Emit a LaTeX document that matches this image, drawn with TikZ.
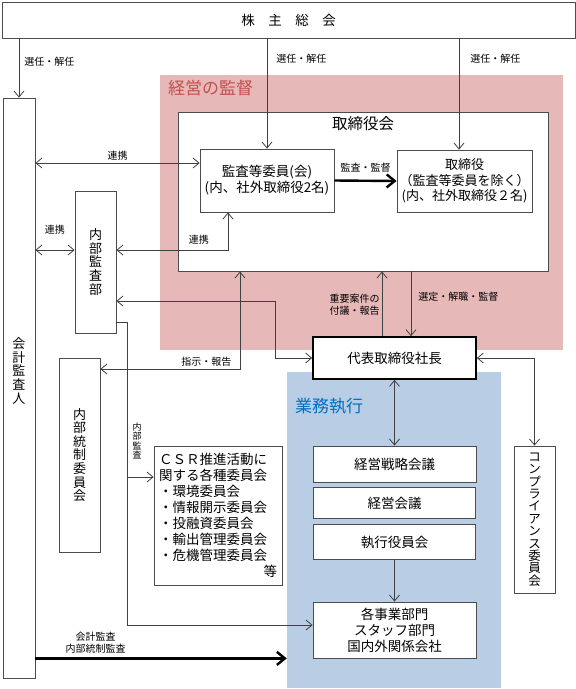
\documentclass[tikz,border=0pt]{standalone}
\usepackage{fontspec}
\setmainfont{Noto Sans CJK JP}
\usetikzlibrary{arrows.meta,calc,positioning}
\definecolor{keieibg}{RGB}{230,185,184}
\definecolor{gyomubg}{RGB}{185,205,229}
\definecolor{keieitxt}{RGB}{192,80,77}
\definecolor{gyomutxt}{RGB}{0,112,192}
\definecolor{linegray}{RGB}{64,64,64}
\tikzset{every picture/.style={
  >={Straight Barb[length=6pt,width=10pt]}   % Open V-shaped arrow heads.
  }
}

\begin{document}
\begin{tikzpicture}[x=1pt,y=-1pt,
    box/.style={                % Boxes denoting the organs.
      rectangle,
      draw=black!70,
      line width=0.8pt,
      fill=white,
      align=center,
      inner sep=0pt,
      font=\fontsize{13.5}{16}\selectfont
    },
    vbox/.style={               % Tall boxes with stacked text.
      box,
      font=\fontsize{13}{13.6}\selectfont
    },
    region/.style={             % Shaded areas behind the boxes.
      rectangle,
      inner sep=0pt
    },
    area/.style={               % Titles of the shaded areas.
      anchor=west,
      inner sep=0pt,
      font=\fontsize{17}{20}\selectfont
    },
    lbl/.style={                % Small texts along the connectors.
      inner sep=2pt,
      align=center,
      font=\fontsize{10}{12}\selectfont
    },
    conn/.style={               % Plain connectors.
      draw=linegray,
      line width=0.8pt
    },
    heavy/.style={              % Bold arrows.
      draw=black,
      line width=2.4pt,
      -{Straight Barb[length=8pt,width=13pt]}
    }]
    \useasboundingbox (0,0) rectangle (576,689);

    % Shaded areas for supervision and execution.
    \node[region,fill=keieibg,minimum width=403,minimum height=275] (kantoku) at (361.5,212.5) {};
    \node[region,fill=gyomubg,minimum width=214,minimum height=316] (gyomu) at (394,530) {};
    \node[area,text=keieitxt] (lkantoku) at (168,88) {経営の監督};
    \node[area,text=gyomutxt] (lgyomu) at (295,406) {業務執行};

    % The boxes.
    \node[box,minimum width=573,minimum height=36] (kabu) at (288.5,20) {株　主　総　会};
    \node[box,minimum width=370,minimum height=159] (torikai) at (363,191.5) {};
    \node[inner sep=0pt,font=\fontsize{15.5}{18}\selectfont] (ltorikai) at (363,124) {取締役会};
    \node[box,minimum width=134,minimum height=63] (iin) at (267,180.5)
      {監査等委員(会)\\(内、社外取締役2名)};
    \node[box,minimum width=135,minimum height=62,font=\fontsize{13}{15.5}\selectfont] (tori) at (464.5,181)
      {取締役\\（監査等委員を除く）\\(内、社外取締役２名)};
    \node[box,draw=black,line width=1.6pt,minimum width=163,minimum height=42] (shacho) at (394.5,358)
      {代表取締役社長};
    \node[box,minimum width=163,minimum height=36] (senryaku) at (394.5,464) {経営戦略会議};
    \node[box,minimum width=162,minimum height=31,below=5pt of senryaku] (keiei) {経営会議};
    \node[box,minimum width=162,minimum height=35,below=5pt of keiei] (shikko) {執行役員会};
    \node[box,minimum width=163,minimum height=56] (jigyo) at (394.5,630)
      {各事業部門\\スタッフ部門\\国内外関係会社};
    \node[box,minimum width=128,minimum height=139,text width=118,align=left] (csr) at (218,515.5)
      {ＣＳＲ推進活動に\\関する各種委員会\\・環境委員会\\・情報開示委員会\\・投融資委員会\\・輸出管理委員会\\・危機管理委員会\\\mbox{}\hfill 等};

    % Tall boxes with stacked text.
    \node[vbox,minimum width=32,minimum height=580] (kaikei) at (19,388) {};
    \node[inner sep=0pt,align=center,font=\fontsize{13}{13.6}\selectfont] (lkaikei) at (19,371)
      {会\\計\\監\\査\\人};
    \node[vbox,minimum width=41,minimum height=142] (naibu) at (95.5,262) {内\\部\\監\\査\\部};
    \node[vbox,minimum width=41,minimum height=194] (tousei) at (79.5,455)
      {内\\部\\統\\制\\委\\員\\会};
    \node[vbox,minimum width=41,minimum height=147,font=\fontsize{12.5}{12.4}\selectfont] (comp) at (534.5,519.5)
      {コ\\ン\\プ\\ラ\\イ\\ア\\ン\\ス\\委\\員\\会};

    % Appointment by the shareholders' meeting.
    \draw[conn,->] (kabu.south -| kaikei) -- node[lbl,right=3pt,pos=0.4] (lsen1) {選任・解任} (kaikei.north);
    \draw[conn,->] (iin.north |- kabu.south) -- node[lbl,right=7pt,pos=0.18] (lsen2) {選任・解任} (iin.north);
    \coordinate (toriin) at ([xshift=-5.5pt]tori.north);
    \draw[conn,->] (toriin |- kabu.south) -- node[lbl,right=9pt,pos=0.18] (lsen3) {選任・解任} (toriin);

    % Cooperation lines.
    \coordinate (iinw) at ([yshift=17.5pt]iin.west);
    \draw[conn,<->] (iinw -| kaikei.east) -- node[lbl,above] (lren1) {連携} (iinw);
    \coordinate (naibuw) at ([yshift=12pt]naibu.west);
    \draw[conn,<->] (naibuw -| kaikei.east) -- node[lbl,above=13pt] (lren2) {連携} (naibuw);
    \coordinate (iins) at ([xshift=-39pt]iin.south);
    \draw[conn,<->] ([yshift=12pt]naibu.east) -| node[lbl,above=3pt,pos=0.37] (lren3) {連携} (iins);

    % Instructions and reports.
    \draw[conn,<->] ([xshift=-123pt]torikai.south) |- node[lbl,above,pos=0.62] (lshiji) {指示・報告}
      ([yshift=86pt]tousei.east);
    \draw[conn,<->] ([yshift=-39pt]naibu.east) -- ++(159,0) |- (shacho.west);

    % Internal audit.
    \coordinate (naibuse) at ([yshift=-60pt]naibu.east);
    \draw[conn,->] (naibuse) -- ++(11,0) coordinate (kansaline) |- ([yshift=5pt]jigyo.west);
    \coordinate (csrin) at ([yshift=38.5pt]csr.west);
    \draw[conn,->] (kansaline |- csrin) -- (csrin);
    \node[lbl,inner sep=0pt,font=\fontsize{9}{9.3}\selectfont] (lnaibukansa) at (137,441)
      {内\\部\\監\\査};

    % Audit of the execution.
    \draw[heavy] (kaikei.east |- jigyo.south) -- node[lbl,above=2pt,pos=0.24] (lkansa)
      {会計監査\\内部統制監査} (gyomu.west |- jigyo.south);
    \draw[heavy] (iin.east) -- node[lbl,above=5pt] (lkansa2) {監査・監督} (tori.west);

    % Between the board and the president.
    \coordinate (hokoku) at ([xshift=-12.5pt]shacho.north);
    \draw[conn,->] (hokoku) -- node[lbl,left,pos=0.48] (lhokoku) {重要案件の\\付議・報告} (hokoku |- torikai.south);
    \coordinate (sentei) at ([xshift=16.5pt]shacho.north);
    \draw[conn,->] (sentei |- torikai.south) -- node[lbl,right=5pt,pos=0.39] (lsentei) {選定・解職・監督} (sentei);

    % Inside the execution area.
    \draw[conn,<->] (shacho.south) -- (senryaku.north);
    \draw[conn,->] (shikko.south) -- (jigyo.north);
    \draw[conn,<->] (shacho.east) -| (comp.north);
  \end{tikzpicture}
\end{document}
